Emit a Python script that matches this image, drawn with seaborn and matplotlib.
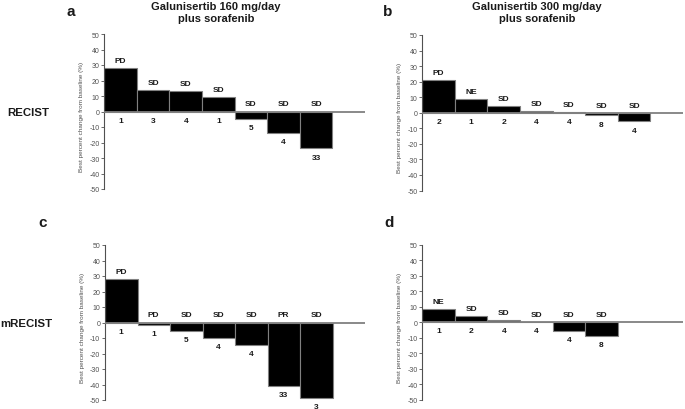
import matplotlib
matplotlib.use("Agg")
import matplotlib.pyplot as plt
import seaborn as sns
import pandas as pd

# ---- data ----
a_values = [28.3, 13.8, 13.3, 9.3, -4.7, -13.6, -23.8]
a_status = ["PD", "SD", "SD", "SD", "SD", "SD", "SD"]
a_counts = ["1", "3", "4", "1", "5", "4", "33"]

b_values = [20.8, 8.6, 4.5, 1.3, 0.3, -1.7, -5.6]
b_status = ["PD", "NE", "SD", "SD", "SD", "SD", "SD"]
b_counts = ["2", "1", "2", "4", "4", "8", "4"]

c_values = [28.3, -1.3, -5.6, -9.8, -14.6, -41.0, -48.6]
c_status = ["PD", "PD", "SD", "SD", "SD", "PR", "SD"]
c_counts = ["1", "1", "5", "4", "4", "33", "3"]

d_values = [8.5, 4.2, 1.4, 0.2, -5.6, -9.0]
d_status = ["NE", "SD", "SD", "SD", "SD", "SD"]
d_counts = ["1", "2", "4", "4", "4", "8"]

y_ticks = [50, 40, 30, 20, 10, 0, -10, -20, -30, -40, -50]
titles = ["Galunisertib 160 mg/day\nplus sorafenib", "Galunisertib 300 mg/day\nplus sorafenib"]
row_labels = ["RECIST", "mRECIST"]
panel_letters = ["a", "b", "c", "d"]
y_label = "Best percent change from baseline (%)"

sns.set_style("white")
plt.rcParams["font.family"] = ["Liberation Sans", "DejaVu Sans"]
plt.rcParams["axes.unicode_minus"] = False

fig = plt.figure(figsize=(6.85, 4.1), dpi=100)

W, H = 685.0, 410.0
def fx(px):
    return px / W
def fy(py):
    return 1 - py / H

# axes rectangles (left, bottom, width, height) in figure fraction
axes_rects = [
    (fx(104.3), fy(190.0), fx(365 - 104.3), (190.0 - 35.0) / H),
    (fx(422.3), fy(191.5), fx(683 - 422.3), (191.5 - 36.0) / H),
    (fx(105.0), fy(401.0), fx(365 - 105.0), (401.0 - 246.0) / H),
    (fx(422.3), fy(400.7), fx(683 - 422.3), (400.7 - 245.7) / H),
]

panels = [
    (a_values, a_status, a_counts),
    (b_values, b_status, b_counts),
    (c_values, c_status, c_counts),
    (d_values, d_status, d_counts),
]

GRAY = "#808080"
TICK = "#505050"
TXT = "#1a1a1a"

for rect, (vals, stat, cnt) in zip(axes_rects, panels):
    ax = fig.add_axes(rect)
    df = pd.DataFrame({"pos": list(range(len(vals))), "val": vals})
    sns.barplot(data=df, x="pos", y="val", color="black", saturation=1,
                width=1.0, edgecolor=GRAY, linewidth=0.8, ax=ax)
    ax.axhline(0, color=GRAY, lw=1.3, zorder=3)
    ax.set_xlim(-0.5, 7.5)
    ax.set_ylim(-50, 50)
    ax.set_yticks(y_ticks)
    ax.set_yticklabels([str(t) for t in y_ticks], fontsize=5, color=TICK)
    ax.set_xticks([])
    ax.set_xlabel("")
    ax.set_ylabel(y_label, fontsize=4.6, color=TICK, labelpad=2.5)
    ax.yaxis.set_label_coords(-0.078, 0.47)
    ax.tick_params(axis="y", direction="out", length=2.5, width=0.6,
                   color=TICK, pad=1, left=True)
    for s in ["top", "right", "bottom"]:
        ax.spines[s].set_visible(False)
    ax.spines["left"].set_color(TICK)
    ax.spines["left"].set_linewidth(0.8)
    ax.patch.set_alpha(0)
    for i, v in enumerate(vals):
        ax.annotate(stat[i], xy=(i, max(v, 0)), xytext=(0, 5.4),
                    textcoords="offset points", ha="center", va="center",
                    fontsize=6, fontweight="bold", color=TXT)
        ax.annotate(cnt[i], xy=(i, min(v, 0)), xytext=(0, -6.3),
                    textcoords="offset points", ha="center", va="center",
                    fontsize=6, fontweight="bold", color=TXT)

# titles
fig.text(fx(216), fy(13), titles[0], ha="center", va="center",
         fontsize=8, fontweight="bold", color=TXT, linespacing=1.35)
fig.text(fx(537), fy(13), titles[1], ha="center", va="center",
         fontsize=8, fontweight="bold", color=TXT, linespacing=1.35)

# row labels
fig.text(fx(28), fy(113), row_labels[0], ha="center", va="center",
         fontsize=8.2, fontweight="bold", color=TXT)
fig.text(fx(26), fy(324), row_labels[1], ha="center", va="center",
         fontsize=8.2, fontweight="bold", color=TXT)

# panel letters
letter_pos = [(70.5, 12.5), (387.3, 12.0), (43.0, 223.0), (389.0, 223.0)]
for letter, (px, py) in zip(panel_letters, letter_pos):
    fig.text(fx(px), fy(py), letter, ha="center", va="center",
             fontsize=11, fontweight="bold", color=TXT)

fig.savefig("out.png", dpi=100)
